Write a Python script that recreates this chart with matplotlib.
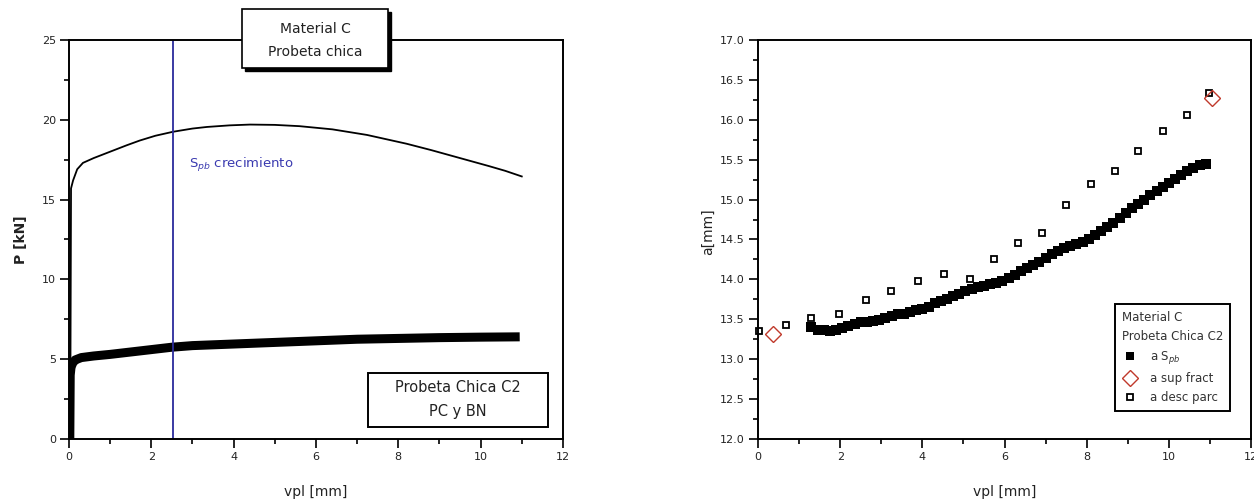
import matplotlib
matplotlib.use("Agg")
import matplotlib.pyplot as plt
from matplotlib.patches import Rectangle
from matplotlib.lines import Line2D
from matplotlib.ticker import MultipleLocator, FormatStrFormatter

plt.rcParams['font.family'] = ['DejaVu Sans']

# left panel: load vs vpl
p_thin_x = [0.03, 0.05, 0.1, 0.2, 0.34, 0.6, 1.0, 1.4, 1.72, 2.1, 2.53, 3.0, 3.35,
            3.9, 4.4, 5.0, 5.6, 6.4, 7.24, 8.2, 8.8, 9.5, 10.2, 10.6, 11.0]
p_thin_y = [0.0, 15.7, 16.2, 16.9, 17.3, 17.6, 18.0, 18.4, 18.7, 19.0, 19.25, 19.45, 19.55,
            19.65, 19.7, 19.68, 19.6, 19.4, 19.05, 18.5, 18.1, 17.6, 17.1, 16.8, 16.45]

p_thick_x = [0.02, 0.03, 0.05, 0.09, 0.15, 0.3, 0.6, 1.0, 1.5, 2.0, 2.5, 3.0, 4.0,
             5.0, 6.0, 7.0, 8.0, 9.0, 10.0, 10.95]
p_thick_y = [0.0, 4.0, 4.5, 4.75, 4.95, 5.1, 5.2, 5.3, 5.45, 5.6, 5.75, 5.85, 5.95,
             6.05, 6.15, 6.25, 6.3, 6.35, 6.38, 6.4]

spb_x = 2.52

# right panel: crack length vs vpl
a_spb_x = [1.30, 1.45, 1.60, 1.75, 1.90, 2.05, 2.20, 2.35, 2.50, 2.65, 2.80, 2.95, 3.10,
           3.25, 3.40, 3.55, 3.70, 3.85, 4.00, 4.15, 4.30, 4.45, 4.60, 4.75, 4.90, 5.05,
           5.20, 5.35, 5.50, 5.65, 5.80, 5.95, 6.10, 6.25, 6.40, 6.55, 6.70, 6.85, 7.00,
           7.15, 7.30, 7.45, 7.60, 7.75, 7.90, 8.05, 8.20, 8.35, 8.50, 8.65, 8.80, 8.95,
           9.10, 9.25, 9.40, 9.55, 9.70, 9.85, 10.00, 10.15, 10.30, 10.45, 10.60, 10.75, 10.90]
a_spb_y = [13.40, 13.37, 13.36, 13.35, 13.36, 13.39, 13.42, 13.44, 13.46, 13.47, 13.48, 13.49, 13.51,
           13.54, 13.56, 13.57, 13.59, 13.61, 13.63, 13.66, 13.70, 13.73, 13.76, 13.79, 13.82, 13.85,
           13.88, 13.90, 13.92, 13.94, 13.96, 13.98, 14.02, 14.06, 14.10, 14.14, 14.18, 14.22, 14.27,
           14.32, 14.36, 14.39, 14.42, 14.44, 14.47, 14.51, 14.56, 14.61, 14.66, 14.71, 14.77, 14.83,
           14.89, 14.94, 15.00, 15.06, 15.11, 15.16, 15.21, 15.26, 15.31, 15.36, 15.40, 15.43, 15.44]

sup_fract_x = [0.36, 11.05]
sup_fract_y = [13.32, 16.27]

desc_parc_x = [0.02, 0.67, 1.30, 1.96, 2.62, 3.24, 3.89, 4.52, 5.15, 5.74, 6.32, 6.91,
               7.50, 8.10, 8.70, 9.26, 9.86, 10.44, 10.97]
desc_parc_y = [13.35, 13.43, 13.52, 13.56, 13.74, 13.86, 13.98, 14.07, 14.00, 14.26, 14.46, 14.58,
               14.93, 15.19, 15.36, 15.61, 15.86, 16.06, 16.335]

fig = plt.figure(figsize=(12.54, 5.01), dpi=100)
ax1 = fig.add_axes([0.0550, 0.1238, 0.3939, 0.7964])
ax2 = fig.add_axes([0.6045, 0.1238, 0.3931, 0.7964])

txt = '#222222'


def style_axes(ax):
    for s in ax.spines.values():
        s.set_linewidth(1.4)
    ax.tick_params(which='both', direction='out', top=False, right=False,
                   labelsize=8, labelcolor=txt, width=1.2, pad=3)
    ax.tick_params(which='major', length=6.5)
    ax.tick_params(which='minor', length=3.5)
    ax.xaxis.set_major_locator(MultipleLocator(2))
    ax.xaxis.set_minor_locator(MultipleLocator(1))
    ax.set_xlim(0, 12)


# ---- left panel
style_axes(ax1)
ax1.set_ylim(0, 25)
ax1.yaxis.set_major_locator(MultipleLocator(5))
ax1.yaxis.set_minor_locator(MultipleLocator(2.5))
ax1.plot(p_thin_x, p_thin_y, color='black', lw=1.3)
ax1.plot(p_thick_x, p_thick_y, color='black', lw=6.5, solid_capstyle='butt')
ax1.axvline(spb_x, color='#2b2b9c', lw=1.3)
ax1.text(2.92, 16.98, r'S$_{pb}$ crecimiento', color='#3a3ab0', fontsize=9.5,
         va='baseline', ha='left')
ax1.set_xlabel('vpl [mm]', fontsize=10, color=txt)
ax1.set_ylabel('P [kN]', fontsize=10, color=txt, fontweight='bold')
ax1.xaxis.set_label_coords(0.5, -0.115)
ax1.yaxis.set_label_coords(-0.082, 0.5)

# top box with shadow
ax1.add_patch(Rectangle((0.356, 0.922), 0.296, 0.148, transform=ax1.transAxes,
                        facecolor='black', edgecolor='black', clip_on=False, zorder=5))
ax1.add_patch(Rectangle((0.350, 0.930), 0.296, 0.148, transform=ax1.transAxes,
                        facecolor='white', edgecolor='black', lw=1.2, clip_on=False, zorder=6))
ax1.text(0.498, 1.028, 'Material C', transform=ax1.transAxes, ha='center', va='center',
         fontsize=10, color=txt, zorder=7)
ax1.text(0.498, 0.970, 'Probeta chica', transform=ax1.transAxes, ha='center', va='center',
         fontsize=10, color=txt, zorder=7)

# bottom box
ax1.add_patch(Rectangle((0.605, 0.030), 0.365, 0.135, transform=ax1.transAxes,
                        facecolor='white', edgecolor='black', lw=1.4, zorder=6))
ax1.text(0.788, 0.130, 'Probeta Chica C2', transform=ax1.transAxes, ha='center', va='center',
         fontsize=10.5, color=txt, zorder=7)
ax1.text(0.788, 0.068, 'PC y BN', transform=ax1.transAxes, ha='center', va='center',
         fontsize=10.5, color=txt, zorder=7)

# ---- right panel
style_axes(ax2)
ax2.set_ylim(12, 17)
ax2.yaxis.set_major_locator(MultipleLocator(0.5))
ax2.yaxis.set_minor_locator(MultipleLocator(0.25))
ax2.yaxis.set_major_formatter(FormatStrFormatter('%.1f'))
ax2.plot(a_spb_x, a_spb_y, ls='none', marker='s', ms=6.8, color='black', mew=0)
ax2.plot(desc_parc_x, desc_parc_y, ls='none', marker='s', ms=5, mfc='white', mec='black',
         mew=1.3, clip_on=False)
ax2.plot(sup_fract_x, sup_fract_y, ls='none', marker='D', ms=8, mfc='none', mec='#c0392b',
         mew=1.0, clip_on=False)
ax2.set_xlabel('vpl [mm]', fontsize=10, color=txt)
ax2.set_ylabel('a[mm]', fontsize=10, color=txt)
ax2.xaxis.set_label_coords(0.5, -0.115)
ax2.yaxis.set_label_coords(-0.088, 0.52)

handles = [
    Line2D([], [], ls='none', marker='s', ms=6, color='black', mew=0),
    Line2D([], [], ls='none', marker='D', ms=8, mfc='none', mec='#c0392b', mew=1.0),
    Line2D([], [], ls='none', marker='s', ms=5, mfc='white', mec='black', mew=1.3),
]
labels = [r'a S$_{pb}$', 'a sup fract', 'a desc parc']
leg = ax2.legend(handles, labels, title='Material C\nProbeta Chica C2', alignment='left',
                 loc='lower right', bbox_to_anchor=(0.97, 0.055), fontsize=8.5, title_fontsize=8.5,
                 frameon=True, fancybox=False, framealpha=1, edgecolor='black',
                 handlelength=1.4, handletextpad=1.0, borderpad=0.6, labelspacing=0.5)
leg.get_frame().set_linewidth(1.4)
leg.get_title().set_color('#333333')
leg.get_title().set_linespacing(1.6)
for t in leg.get_texts():
    t.set_color('#333333')

fig.savefig('out.png', dpi=100, facecolor='white')
